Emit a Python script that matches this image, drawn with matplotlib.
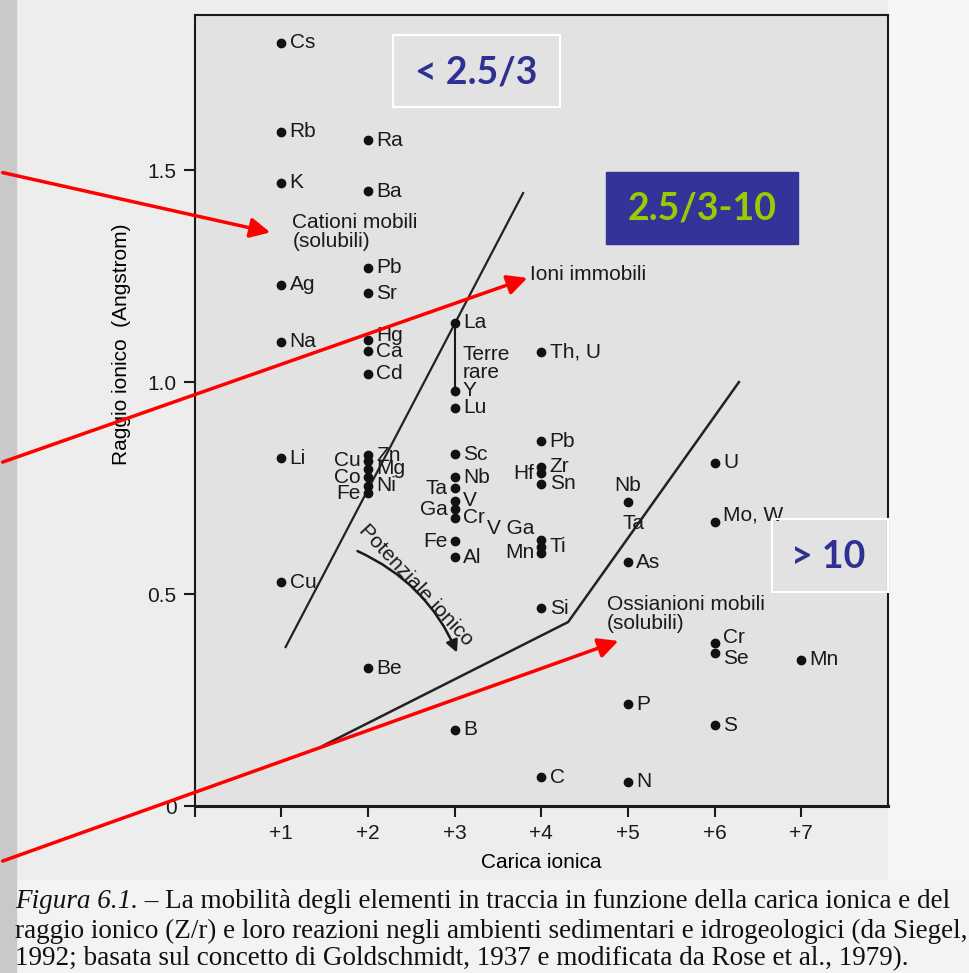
import numpy as np
import matplotlib.pyplot as plt
from matplotlib.patches import FancyArrowPatch, Rectangle

plt.rcParams['font.family'] = ['Liberation Sans', 'DejaVu Sans']

W, H = 970, 973

# element, ionic charge, ionic radius (Angstrom)
elements = ['Cs', 'Rb', 'K', 'Ag', 'Na', 'Li', 'Cu',
            'Ra', 'Ba', 'Pb', 'Sr', 'Hg', 'Ca', 'Cd',
            'Zn', 'Cu', 'Mg', 'Co', 'Ni', 'Fe', 'Be',
            'La', 'Y', 'Lu', 'Sc', 'Nb', 'Ta', 'V', 'Ga', 'Cr', 'Fe', 'Al', 'B',
            'Th, U', 'Pb', 'Zr', 'Hf', 'Sn', 'V Ga', 'Ti', 'Mn', 'Si', 'C',
            'Nb', 'Ta', 'As', 'P', 'N',
            'U', 'Mo, W', 'Cr', 'Se', 'S',
            'Mn']
charges = [1, 1, 1, 1, 1, 1, 1,
           2, 2, 2, 2, 2, 2, 2,
           2, 2, 2, 2, 2, 2, 2,
           3, 3, 3, 3, 3, 3, 3, 3, 3, 3, 3, 3,
           4, 4, 4, 4, 4, 4, 4, 4, 4, 4,
           5, 5.06, 5, 5, 5,
           6, 6, 6, 6, 6,
           7]
radii = [1.80, 1.59, 1.47, 1.23, 1.095, 0.82, 0.528,
         1.57, 1.45, 1.27, 1.21, 1.10, 1.073, 1.02,
         0.828, 0.815, 0.795, 0.776, 0.755, 0.738, 0.325,
         1.14, 0.98, 0.94, 0.83, 0.776, 0.75, 0.72, 0.70, 0.68, 0.625, 0.587, 0.18,
         1.07, 0.86, 0.80, 0.785, 0.76, 0.628, 0.612, 0.598, 0.467, 0.068,
         0.717, 0.667, 0.575, 0.24, 0.057,
         0.81, 0.67, 0.385, 0.36, 0.19,
         0.345]

# label placement: r = right of dot, l = left, a = above, c = text only
sides = ['r'] * 7 + ['r'] * 7 + ['r', 'l', 'r', 'l', 'r', 'l', 'r'] + \
        ['r', 'r', 'r', 'r', 'r', 'l', 'r', 'l', 'r', 'l', 'r', 'r'] + \
        ['r', 'r', 'r', 'l', 'r', 'l', 'r', 'l', 'r', 'r'] + \
        ['a', 'c', 'r', 'r', 'r'] + ['r'] * 5 + ['r']
label_dy = {11: 3, 38: 8, 49: 5, 50: 4, 51: -4}

# field boundaries
bound_a_q = [1.05, 3.79]
bound_a_r = [0.375, 1.446]
bound_b_q = [1.48, 4.31, 6.28]
bound_b_r = [0.142, 0.434, 1.0]

caption = ['raggio ionico (Z/r) e loro reazioni negli ambienti sedimentari e idrogeologici (da Siegel,',
           '1992; basata sul concetto di Goldschmidt, 1937 e modificata da Rose et al., 1979).']


def fx(px):
    return px / W


def fy(py):
    return 1 - py / H


fig = plt.figure(figsize=(9.7, 9.73), dpi=100, facecolor='#ededed')
fig.add_artist(Rectangle((fx(888), 0), 1, 1, transform=fig.transFigure,
                         color='#f6f6f6', zorder=-2))
fig.add_artist(Rectangle((0, 0), 1, fy(880), transform=fig.transFigure,
                         color='#f3f3f3', zorder=-1.5))
fig.add_artist(Rectangle((0, 0), fx(16), 1, transform=fig.transFigure,
                         color='#c9c9c9', zorder=-1))

ax = fig.add_axes([fx(194.6), fy(806), fx(888) - fx(194.6), fy(15) - fy(806)])
ax.set_facecolor('#e2e2e2')
ax.set_xlim(0, 8)
ax.set_ylim(0, 1.866)
for s in ax.spines.values():
    s.set_linewidth(1.5)
    s.set_color('#1a1a1a')
ax.spines['bottom'].set_linewidth(2.2)

ax.set_xticks(range(8))
ax.set_xticklabels([''] + ['+%d' % i for i in range(1, 8)])
ax.set_yticks([0, 0.5, 1.0, 1.5])
ax.set_yticklabels(['0', '0.5', '1.0', '1.5'])
ax.tick_params(direction='out', length=8, width=1.5, pad=5, labelsize=15,
               colors='#1a1a1a')

ax.text(-0.106, 0.584, 'Raggio ionico  (Angstrom)', rotation=90, ha='center',
        va='center', fontsize=15, transform=ax.transAxes)
ax.text(0.5, -0.071, 'Carica ionica', ha='center', va='center', fontsize=15,
        transform=ax.transAxes)

# dots and labels
for i, (name, q, r, side) in enumerate(zip(elements, charges, radii, sides)):
    dy = label_dy.get(i, 0)
    if side != 'c':
        ax.plot(q, r, 'o', color='#111111', ms=6, zorder=4)
    if side == 'r':
        ax.annotate(name, (q, r), xytext=(6, dy), textcoords='offset points',
                    ha='left', va='center', fontsize=15, color='#1a1a1a')
    elif side == 'l':
        ax.annotate(name, (q, r), xytext=(-5, dy), textcoords='offset points',
                    ha='right', va='center', fontsize=15, color='#1a1a1a')
    elif side == 'a':
        ax.annotate(name, (q, r), xytext=(0, 12), textcoords='offset points',
                    ha='center', va='center', fontsize=15, color='#1a1a1a')
    else:
        ax.annotate(name, (q, r), ha='center', va='center', fontsize=15,
                    color='#1a1a1a')

ax.plot([3, 3], [radii[21], radii[22]], color='#1a1a1a', lw=1.5)
ax.plot(bound_a_q, bound_a_r, color='#222222', lw=1.6)
ax.plot(bound_b_q, bound_b_r, color='#222222', lw=1.8)

ax.text(1.127, 1.398, 'Cationi mobili\n(solubili)', ha='left', va='top',
        fontsize=15, linespacing=1.0, color='#1a1a1a')
ax.text(3.87, 1.255, 'Ioni immobili', ha='left', va='center', fontsize=15,
        color='#1a1a1a')
ax.text(3.09, 1.087, 'Terre\nrare', ha='left', va='top', fontsize=15,
        linespacing=0.95, color='#1a1a1a')
ax.text(4.76, 0.498, 'Ossianioni mobili\n(solubili)', ha='left', va='top',
        fontsize=15, linespacing=1.0, color='#1a1a1a')
ax.text(2.55, 0.52, 'Potenziale ionico', rotation=-47, ha='center', va='center',
        rotation_mode='anchor', fontsize=15, color='#1a1a1a')
ax.add_patch(FancyArrowPatch((1.85, 0.604), (3.04, 0.356),
                             connectionstyle='arc3,rad=-0.2', arrowstyle='-|>',
                             mutation_scale=18, lw=1.8, color='#1a1a1a'))

# boxes added on top of the scan
fig.add_artist(Rectangle((fx(393), fy(107)), fx(560) - fx(393), fy(35) - fy(107),
                         transform=fig.transFigure, fill=False, ec='white', lw=1.5,
                         zorder=6))
fig.text(fx(476), fy(72), '< 2.5/3', ha='center', va='center', fontsize=27,
         fontweight='bold', family='Lato', color='#2e3192', zorder=7)
fig.add_artist(Rectangle((fx(606), fy(244)), fx(798) - fx(606), fy(172) - fy(244),
                         transform=fig.transFigure, color='#333399', zorder=6))
fig.text(fx(702), fy(208), '2.5/3-10', ha='center', va='center', fontsize=27,
         fontweight='bold', family='Lato', color='#99cc00', zorder=7)
fig.add_artist(Rectangle((fx(772), fy(592)), fx(888) - fx(772), fy(519) - fy(592),
                         transform=fig.transFigure, fill=False, ec='white', lw=1.5,
                         zorder=6))
fig.text(fx(828), fy(557), '> 10', ha='center', va='center', fontsize=27,
         fontweight='bold', family='Lato', color='#2e3192', zorder=7)

# red pointers
for (x0, y0), (x1, y1) in [((0, 172), (273, 233)), ((0, 463), (530, 277)),
                           ((0, 862), (621, 640))]:
    fig.add_artist(FancyArrowPatch((fx(x0), fy(y0)), (fx(x1), fy(y1)),
                                   transform=fig.transFigure, arrowstyle='-|>',
                                   mutation_scale=30, lw=2.5, color='#ff0000',
                                   zorder=8))

# caption
t = fig.text(fx(15), fy(902), 'Figura 6.1.', ha='left', va='center', fontsize=19.5,
             family='Liberation Serif', style='italic', color='#111111')
fig.canvas.draw()
bb = t.get_window_extent()
fig.text(bb.x1 / W, fy(902), ' – La mobilità degli elementi in traccia in funzione della carica ionica e del',
         ha='left', va='center', fontsize=19.5, family='Liberation Serif', color='#111111')
fig.text(fx(15), fy(931), caption[0], ha='left', va='center', fontsize=19.5,
         family='Liberation Serif', color='#111111')
fig.text(fx(15), fy(959), caption[1], ha='left', va='center', fontsize=19.5,
         family='Liberation Serif', color='#111111')

fig.savefig('out.png', dpi=100, facecolor=fig.get_facecolor())
